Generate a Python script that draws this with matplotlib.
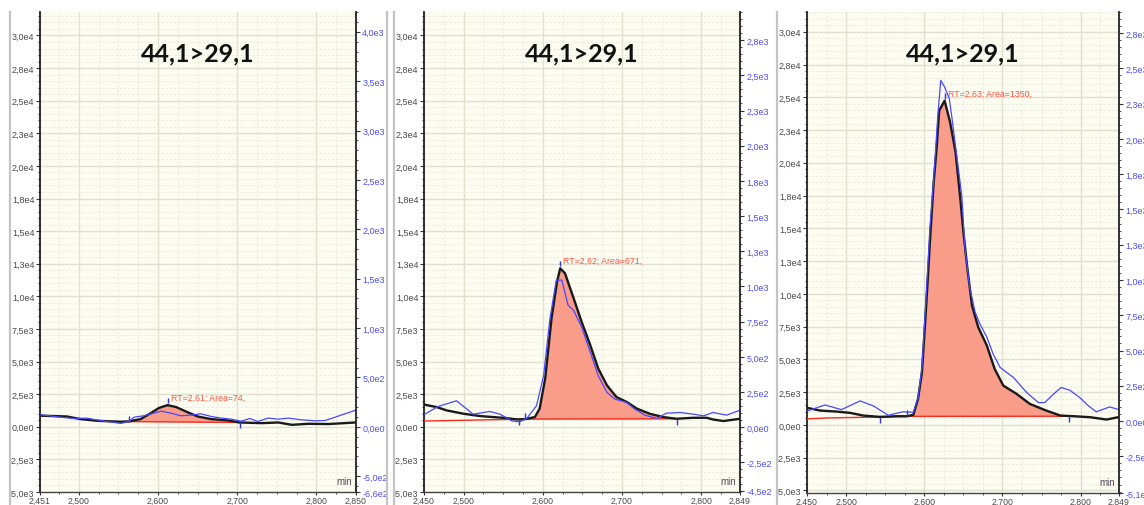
import numpy as np
import matplotlib.pyplot as plt
from matplotlib.ticker import MultipleLocator
from matplotlib.lines import Line2D

W, H = 1144, 506
title = '44,1>29,1'

# shared left (quantifier) axis ticks
left_ticks = [-5000, -2500, 0, 2500, 5000, 7500, 10000, 12500, 15000,
              17500, 20000, 22500, 25000, 27500, 30000]
left_labels = ['-5,0e3', '-2,5e3', '0,0e0', '2,5e3', '5,0e3', '7,5e3', '1,0e4',
               '1,3e4', '1,5e4', '1,8e4', '2,0e4', '2,3e4', '2,5e4', '2,8e4', '3,0e4']

# ---- panel 1 ----
p1_time = [2.452, 2.485, 2.502, 2.523, 2.553, 2.563, 2.578, 2.591, 2.601, 2.612,
           2.623, 2.635, 2.650, 2.667, 2.688, 2.703, 2.731, 2.752, 2.769, 2.790,
           2.815, 2.850]
p1_quan = [850, 790, 590, 460, 385, 410, 590, 1050, 1440, 1660,
           1510, 1180, 790, 590, 490, 330, 280, 330, 150, 230,
           210, 330]
p1_qual_time = [2.452, 2.476, 2.493, 2.510, 2.527, 2.553, 2.563, 2.570, 2.582, 2.595,
                2.604, 2.616, 2.629, 2.642, 2.654, 2.667, 2.680, 2.692, 2.705, 2.716,
                2.726, 2.739, 2.752, 2.765, 2.781, 2.798, 2.811, 2.824, 2.836, 2.851]
p1_qual = [122, 98, 84, 88, 64, 34, 54, 98, 112, 139,
           159, 139, 112, 119, 132, 105, 88, 78, 57, 84,
           54, 88, 78, 88, 71, 61, 64, 98, 132, 172]
p1_base_time = [2.563, 2.703]
p1_base = [400, 330]
p1_peak = (2.563, 2.703)
p1_marks_up = [2.563]
p1_marks_down = [2.703]
p1_label = 'RT=2,61; Area=74,'
p1_xlim = (2.451, 2.850)
p1_xticks = [2.451, 2.5, 2.6, 2.7, 2.8, 2.85]
p1_xticklabels = ['2,451', '2,500', '2,600', '2,700', '2,800', '2,850']
p1_rticks = [-660, -500, 0, 500, 1000, 1500, 2000, 2500, 3000, 3500, 4000]
p1_rlabels = ['-6,6e2', '-5,0e2', '0,0e0', '5,0e2', '1,0e3', '1,5e3', '2,0e3',
              '2,5e3', '3,0e3', '3,5e3', '4,0e3']

# ---- panel 2 ----
p2_time = [2.451, 2.466, 2.479, 2.500, 2.521, 2.537, 2.554, 2.567, 2.578, 2.590,
           2.596, 2.603, 2.611, 2.618, 2.622, 2.628, 2.639, 2.649, 2.660, 2.670,
           2.681, 2.693, 2.706, 2.719, 2.735, 2.752, 2.769, 2.790, 2.807, 2.815,
           2.828, 2.849]
p2_quan = [1690, 1510, 1250, 1000, 820, 745, 670, 560, 590, 745,
           1385, 3690, 8300, 11130, 12150, 11770, 9840, 8050, 6250, 4460,
           3180, 2280, 1900, 1385, 1000, 745, 615, 690, 690, 560,
           440, 615]
p2_qual_time = [2.451, 2.468, 2.491, 2.512, 2.533, 2.546, 2.561, 2.571, 2.580, 2.592,
                2.601, 2.609, 2.617, 2.624, 2.632, 2.639, 2.649, 2.660, 2.670, 2.681,
                2.691, 2.706, 2.716, 2.729, 2.744, 2.756, 2.773, 2.790, 2.803, 2.815,
                2.832, 2.849]
p2_qual = [93, 148, 188, 93, 112, 93, 45, 38, 65, 152,
           366, 771, 1045, 1045, 866, 830, 712, 533, 366, 248,
           200, 176, 129, 86, 62, 100, 105, 93, 81, 105,
           86, 121]
p2_base_time = [2.450, 2.578, 2.770]
p2_base = [440, 590, 615]
p2_peak = (2.578, 2.770)
p2_marks_up = [2.578]
p2_marks_down = [2.570, 2.770]
p2_label = 'RT=2,62; Area=671,'
p2_xlim = (2.450, 2.849)
p2_xticks = [2.45, 2.5, 2.6, 2.7, 2.8, 2.849]
p2_xticklabels = ['2,450', '2,500', '2,600', '2,700', '2,800', '2,849']
p2_rticks = [-450, -250, 0, 250, 500, 750, 1000, 1250, 1500, 1750, 2000, 2250, 2500, 2750]
p2_rlabels = ['-4,5e2', '-2,5e2', '0,0e0', '2,5e2', '5,0e2', '7,5e2', '1,0e3',
              '1,3e3', '1,5e3', '1,8e3', '2,0e3', '2,3e3', '2,5e3', '2,8e3']

# ---- panel 3 ----
p3_time = [2.450, 2.467, 2.488, 2.505, 2.522, 2.543, 2.565, 2.578, 2.586, 2.592,
           2.597, 2.601, 2.605, 2.607, 2.612, 2.616, 2.619, 2.626, 2.633, 2.640,
           2.646, 2.650, 2.655, 2.661, 2.669, 2.680, 2.690, 2.701, 2.718, 2.735,
           2.756, 2.774, 2.791, 2.812, 2.833, 2.848]
p3_quan = [1300, 1090, 1015, 915, 710, 610, 660, 660, 765, 1985,
           4020, 7700, 11650, 13800, 18500, 21300, 23980, 24740, 23100, 20810,
           17300, 14700, 12000, 9100, 7450, 6050, 4270, 3000, 2365, 1600,
           1090, 710, 660, 585, 405, 585]
p3_qual_time = [2.450, 2.473, 2.494, 2.518, 2.535, 2.554, 2.573, 2.586, 2.592, 2.597,
                2.601, 2.605, 2.607, 2.612, 2.617, 2.621, 2.626, 2.632, 2.635, 2.641,
                2.648, 2.652, 2.658, 2.665, 2.671, 2.680, 2.688, 2.697, 2.714, 2.731,
                2.746, 2.754, 2.765, 2.775, 2.786, 2.799, 2.810, 2.820, 2.837, 2.848]
p3_qual = [71, 114, 81, 143, 107, 41, 66, 62, 166, 380,
           762, 1142, 1357, 1714, 2142, 2415, 2368, 2285, 2165, 1904,
           1594, 1225, 952, 773, 690, 595, 476, 380, 309, 202,
           131, 131, 190, 238, 219, 166, 107, 66, 100, 83]
p3_base_time = [2.450, 2.477, 2.543, 2.578, 2.785]
p3_base = [460, 530, 600, 650, 660]
p3_peak = (2.578, 2.785)
p3_marks_up = [2.578]
p3_marks_down = [2.543, 2.785]
p3_label = 'RT=2,63; Area=1350,'
p3_xlim = (2.450, 2.849)
p3_xticks = [2.45, 2.5, 2.6, 2.7, 2.8, 2.849]
p3_xticklabels = ['2,450', '2,500', '2,600', '2,700', '2,800', '2,849']
p3_rticks = [-510, -250, 0, 250, 500, 750, 1000, 1250, 1500, 1750, 2000, 2250, 2500, 2750]
p3_rlabels = ['-5,1e2', '-2,5e2', '0,0e0', '2,5e2', '5,0e2', '7,5e2', '1,0e3',
              '1,3e3', '1,5e3', '1,8e3', '2,0e3', '2,3e3', '2,5e3', '2,8e3']

BG = '#fcfcf1'
FILL = '#f99c8a'
RED = '#ff2a1a'
BLUE = '#4848ff'
TICKFONT = 'Liberation Sans'


def px_rect(x0, y0, x1, y1):
    return [x0 / W, 1 - y1 / H, (x1 - x0) / W, (y1 - y0) / H]


def draw_panel(fig, rect, time, quan, qtime, qual, base_t, base_y, peak,
               marks_up, marks_down, label, xlim, xticks, xlabels,
               ylim, ylim_r, rticks, rlabels, rminor):
    ax = fig.add_axes(px_rect(*rect))
    ax.set_facecolor(BG)
    ax.set_xlim(*xlim)

    ax.set_xticks(xticks)
    ax.set_xticklabels(xlabels)
    ax.xaxis.set_minor_locator(MultipleLocator(0.025))
    ax.set_yticks(left_ticks)
    ax.set_yticklabels(left_labels)
    ax.yaxis.set_minor_locator(MultipleLocator(500))
    ax.set_ylim(*ylim)

    ax.grid(which='major', color='#e0e0d0', lw=1.0, ls='-')
    ax.grid(which='minor', color='#e9e9de', lw=0.6, ls=(0, (3, 2)))
    ax.set_axisbelow(True)

    ax.tick_params(which='major', length=3, width=0.8, color='#333333',
                   labelsize=6.5, labelcolor='#4a4a4a', pad=1)
    ax.tick_params(which='minor', length=1.5, width=0.6, color='#333333')
    ax.tick_params(axis='x', which='major', length=2.5, pad=0.5, labelsize=6.3)
    for t in ax.get_xticklabels() + ax.get_yticklabels():
        t.set_family(TICKFONT)

    ax.spines['top'].set_visible(False)
    ax.spines['right'].set_visible(False)
    ax.spines['left'].set_color('#222222')
    ax.spines['left'].set_linewidth(1.3)
    ax.spines['bottom'].set_color('#444444')
    ax.spines['bottom'].set_linewidth(1.0)

    # integrated peak area
    t = np.array(time)
    inside = t[(t > peak[0]) & (t < peak[1])]
    xs = np.concatenate([[peak[0]], inside, [peak[1]]])
    ys = np.interp(xs, time, quan)
    yb = np.interp(xs, base_t, base_y)
    ax.fill_between(xs, yb, ys, color=FILL, lw=0, zorder=2)
    ax.plot(base_t, base_y, color=RED, lw=1.0, zorder=3)
    ax.plot(time, quan, color='#1a1a1a', lw=1.7, zorder=4)

    mark = 450
    for m in marks_up:
        b = np.interp(m, base_t, base_y)
        ax.vlines(m, b, b + mark, color='#3030e0', lw=1.0, zorder=5)
    for m in marks_down:
        b = np.interp(m, base_t, base_y)
        ax.vlines(m, b - mark, b, color='#3030e0', lw=1.0, zorder=5)

    i = int(np.argmax(quan))
    ax.vlines(time[i], quan[i] + 150, quan[i] + 550, color='#3030e0', lw=1.0, zorder=5)
    ax.text(time[i] + 0.004, quan[i] + 600, label, color='#ff5540', fontsize=6.3,
            family=TICKFONT, ha='left', va='center', zorder=6)

    ax.text(0.5, 0.915, title, transform=ax.transAxes, ha='center', va='center',
            fontsize=18, fontweight='bold', family='Lato', color='#111111')
    ax.text(0.987, 0.022, 'min', transform=ax.transAxes, ha='right', va='center',
            fontsize=7, family=TICKFONT, color='#5a4a5a')

    # qualifier trace on the right axis
    ax2 = ax.twinx()
    ax2.plot(qtime, qual, color=BLUE, lw=0.9)
    ax2.set_yticks(rticks)
    ax2.set_yticklabels(rlabels)
    ax2.yaxis.set_minor_locator(MultipleLocator(rminor))
    ax2.set_ylim(*ylim_r)
    ax2.tick_params(which='major', length=3, width=0.8, color='#333333',
                    labelsize=6.5, labelcolor='#4d4dff', pad=1.5)
    ax2.tick_params(which='minor', length=1.5, width=0.6, color='#333333')
    for tl in ax2.get_yticklabels():
        tl.set_family(TICKFONT)
    for s in ['top', 'bottom', 'left']:
        ax2.spines[s].set_visible(False)
    ax2.spines['right'].set_color('#222222')
    ax2.spines['right'].set_linewidth(1.3)
    return ax, ax2


fig = plt.figure(figsize=(W / 100, H / 100), dpi=100)
fig.patch.set_facecolor('white')

# window borders between the three screenshots
for xb in [10, 387, 394, 777]:
    fig.add_artist(Line2D([xb / W, xb / W], [0, 1 - 13 / H], color='#c4c4c4', lw=1.6))

draw_panel(fig, (40, 13, 356, 493), p1_time, p1_quan, p1_qual_time, p1_qual,
           p1_base_time, p1_base, p1_peak, p1_marks_up, p1_marks_down, p1_label,
           p1_xlim, p1_xticks, p1_xticklabels, (-5000, 31800), (-660, 4200),
           p1_rticks, p1_rlabels, 100)
draw_panel(fig, (424, 13, 740, 493), p2_time, p2_quan, p2_qual_time, p2_qual,
           p2_base_time, p2_base, p2_peak, p2_marks_up, p2_marks_down, p2_label,
           p2_xlim, p2_xticks, p2_xticklabels, (-5000, 31800), (-460, 2950),
           p2_rticks, p2_rlabels, 50)
draw_panel(fig, (807, 13, 1119, 494), p3_time, p3_quan, p3_qual_time, p3_qual,
           p3_base_time, p3_base, p3_peak, p3_marks_up, p3_marks_down, p3_label,
           p3_xlim, p3_xticks, p3_xticklabels, (-5200, 31510), (-510, 2900),
           p3_rticks, p3_rlabels, 50)

fig.savefig('out.png', dpi=100, facecolor='white')
